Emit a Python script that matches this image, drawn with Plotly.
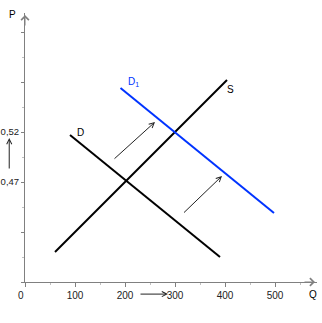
import plotly.graph_objects as go

# Data (Q, P)
d_q = [90, 390]
d_p = [0.517, 0.395]
s_q = [60, 404]
s_p = [0.400, 0.572]
d1_q = [191, 498]
d1_p = [0.564, 0.439]

x_ticks = [0, 100, 200, 300, 400, 500]
x_labels = ["0\u00a0\u00a0\u00a0", "100", "200", "300", "400", "500"]
y_ticks = [0.37, 0.42, 0.47, 0.52, 0.57, 0.62]
y_labels = ["", "", "0,47", "0,52", "", ""]

# shift arrows (tail Q, tail P, head Q, head P)
shift1 = [176, 0.492, 260, 0.530]
shift2 = [315, 0.438, 394, 0.476]

AX = "#808080"
FONT = "Liberation Sans, Arial, sans-serif"

fig = go.Figure()
fig.add_trace(go.Scatter(x=d_q, y=d_p, mode="lines", line=dict(color="black", width=2), hoverinfo="skip"))
fig.add_trace(go.Scatter(x=s_q, y=s_p, mode="lines", line=dict(color="black", width=2), hoverinfo="skip"))
fig.add_trace(go.Scatter(x=d1_q, y=d1_p, mode="lines", line=dict(color="#0033ff", width=2), hoverinfo="skip"))

ann = []
# axis arrowheads
ann.append(dict(x=0, y=0.637, ax=0, ay=12, xref="x", yref="y", axref="pixel", ayref="pixel",
                showarrow=True, arrowhead=4, arrowsize=1.5, arrowwidth=1, arrowcolor=AX, text=""))
ann.append(dict(x=580, y=0.37, ax=-12, ay=0, xref="x", yref="y", axref="pixel", ayref="pixel",
                showarrow=True, arrowhead=4, arrowsize=1.5, arrowwidth=1, arrowcolor=AX, text=""))
for a in (shift1, shift2):
    ann.append(dict(x=a[2], y=a[3], ax=a[0], ay=a[1], xref="x", yref="y", axref="x", ayref="y",
                    showarrow=True, arrowhead=5, arrowsize=1, arrowwidth=1, arrowcolor="#222", text=""))
# arrow under the Q axis labels (200 -> 300)
ann.append(dict(x=286, y=-0.045, ax=228, ay=0, xref="x", yref="paper", axref="x", ayref="pixel",
                showarrow=True, arrowhead=5, arrowsize=1, arrowwidth=1, arrowcolor="#222", text=""))
# arrow beside the P axis labels (0.47 -> 0.52)
ann.append(dict(x=-0.054, y=0.514, ax=0, ay=0.482, xref="paper", yref="y", axref="pixel", ayref="y",
                showarrow=True, arrowhead=5, arrowsize=1, arrowwidth=1, arrowcolor="#222", text=""))

labels = [
    dict(x=110, y=0.520, xref="x", yref="y", text="D", font=dict(color="black")),
    dict(x=410, y=0.563, xref="x", yref="y", text="S", font=dict(color="black")),
    dict(x=216, y=0.570, xref="x", yref="y", text="D<sub>1</sub>", font=dict(color="#0033ff")),
    dict(x=-0.0445, y=0.9926, xref="paper", yref="paper", text="P", font=dict(color="black")),
    dict(x=576, y=-0.045, xref="x", yref="paper", text="Q", font=dict(color="black")),
]
for l in labels:
    l.update(showarrow=False, xanchor="center", yanchor="middle")
    l["font"].update(size=10, family=FONT)
    ann.append(l)

fig.update_layout(
    width=322, height=323,
    margin=dict(l=25, r=5, t=13, b=41, autoexpand=False),
    paper_bgcolor="white", plot_bgcolor="white",
    showlegend=False,
    annotations=ann,
    font=dict(family=FONT, size=10, color="#222"),
    xaxis=dict(range=[0, 584], showgrid=False, zeroline=False, showline=True, linecolor=AX, linewidth=1,
               tickmode="array", tickvals=x_ticks, ticktext=x_labels, ticks="outside", ticklen=4,
               tickcolor=AX, tickwidth=1, tickfont=dict(size=10, family=FONT, color="#222"),
               minor=dict(dtick=50, tick0=0, ticks="outside", ticklen=2, tickcolor="#c0c0c0"),
               automargin=False, fixedrange=True),
    yaxis=dict(range=[0.37, 0.639], showgrid=False, zeroline=False, showline=True, linecolor=AX, linewidth=1,
               tickmode="array", tickvals=y_ticks, ticktext=y_labels, ticks="outside", ticklen=3,
               tickcolor=AX, tickwidth=1, tickfont=dict(size=9.5, family=FONT, color="#222"),
               minor=dict(dtick=0.025, tick0=0.37, ticks="outside", ticklen=2, tickcolor="#c0c0c0"),
               automargin=False, ticklabelstandoff=0, fixedrange=True),
)

fig.write_html("out.html", config=dict(displayModeBar=False))
